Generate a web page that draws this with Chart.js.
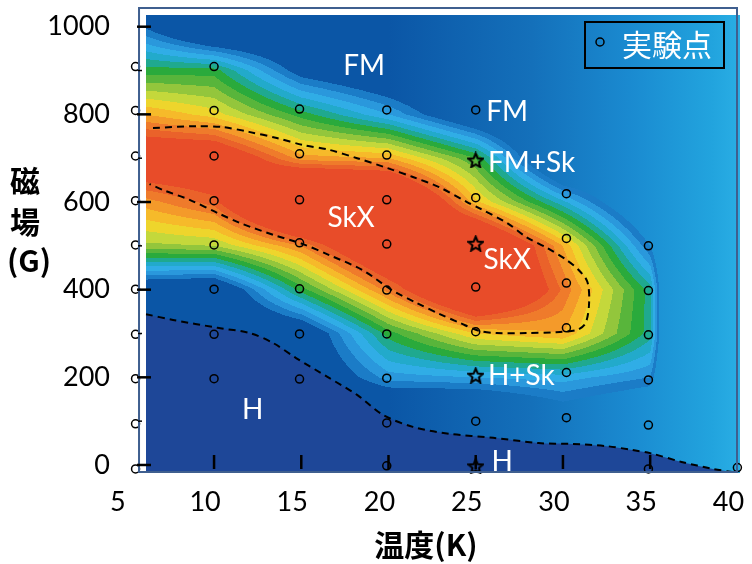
<!DOCTYPE html>
<html>
<head>
<meta charset="utf-8">
<script src="https://cdn.jsdelivr.net/npm/chart.js@4.4.1/dist/chart.umd.min.js"></script>
<style>
  html, body { margin: 0; padding: 0; background: #fff; }
  #wrap { width: 752px; height: 564px; position: relative; }
</style>
</head>
<body>
<div id="wrap"><canvas id="phaseChart"></canvas></div>
<script>
// contour field: grid columns (K), rows (G), value = colour level (>=15 is red)
const gridT = [6, 10, 15, 20, 25, 30, 35, 36, 40]
const gridG = [0, 100, 200, 300, 400, 500, 600, 700, 800, 900, 1000]
const levelT6 = [-3, -3, -3, -2, -1.3, 8.7, 12.5, 18, 12, 6.5, 0.9]
const levelT10 = [-3, -3, -3, -3, -1.9, 9, 14.5, 18, 10.5, 6.5, -3.7]
const levelT15 = [-3, -3, -2, -1.5, 6.5, 13, 24, 12.5, 6.5, 0, -3]
const levelT20 = [-4, -4, 2.5, 6.5, 13.5, 20, 22.4, 12, 3, -2.2, -4]
const levelT25 = [-5, -4.5, 3, 11, 21.4, 21.1, 11.3, 7, -2, -4, -4]
const levelT30 = [-3, -1, 3.5, 12, 13.8, 12, 4.3, -4.4, -5, -5, -5]
const levelT35 = [-3, -3, 2, 5.5, 5.5, 1, -3, -3, -3, -3, -3]
const levelT36 = [-3, -3, -3, -3, -3, -3, -3, -3, -3, -3, -3]
const levelT40 = [-3, -3, -3, -3, -3, -3, -3, -3, -3, -3, -3]
const levelColumns = [levelT6, levelT10, levelT15, levelT20, levelT25, levelT30, levelT35, levelT36, levelT40]
const fieldStartT = 6.1

// measured points (実験点), one array of fields per temperature column
const pointCols = [10, 14.9, 19.9, 25, 30.2, 34.9, 40, 5.5]
const ptsT5 = [-9, 94, 197, 298, 401, 502, 603, 705, 809, 909]
const ptsT10 = [197, 298, 401, 502, 603, 705, 809, 909]
const ptsT15 = [196, 299, 402, 507, 605, 710, 812]
const ptsT20 = [-2, 96, 198, 299, 399, 504, 605, 707, 810]
const ptsT25 = [100, 304, 406, 610, 810]
const ptsT30 = [108, 211, 313, 415, 517, 619]
const ptsT35 = [-9, 91, 194, 297, 398, 500]
const ptsT40 = [-6]
const pointFields = [ptsT10, ptsT15, ptsT20, ptsT25, ptsT30, ptsT35, ptsT40, ptsT5]

// highlighted points (stars) at 25 K
const starT = [25, 25, 25, 25]
const starG = [-2, 205, 506, 696]

// dashed phase boundaries
const skxT = [6.5, 9.0, 10.5, 12.0, 13.6, 15.1, 16.6, 18.2, 19.9, 21.4, 22.9, 24.5, 25.2, 26.8, 27.9, 29.1, 30.2, 30.9, 31.4, 31.5, 31.3, 30.8, 29.6, 27.9, 26.2, 25.2, 24.1, 22.9, 21.6, 20.2, 18.5, 16.6, 15.1, 13.4, 11.5, 10.2, 8.6, 7.1, 6.3]
const skxG = [769, 773, 771, 760, 746, 730, 719, 700, 678, 657, 634, 600, 586, 552, 520, 495, 468, 445, 418, 370, 324, 308, 303, 301, 301, 306, 324, 345, 370, 399, 445, 479, 504, 525, 552, 575, 605, 627, 641]
const hT = [6.1, 7.65, 10.2, 12.05, 13.4, 14.7, 16.5, 18.2, 19.7, 21.4, 23.5, 26.0, 28.6, 30.5, 32.5, 34.0, 35.0, 36.8, 38.6, 39.7]
const hG = [344, 331, 313, 301, 278, 244, 201, 160, 114, 87, 71, 62, 50, 48, 43, 34, 27, 7, -9, -16]

const xTicks = [5, 10, 15, 20, 25, 30, 35, 40]
const yTicks = [0, 200, 400, 600, 800, 1000]

const levelColors = ['#1b7cc7', '#2a98dc', '#30ade6', '#22aacb', '#1fa98f', '#2aaa3c', '#58b53b', '#93c63c',
  '#c4d83b', '#eed52c', '#f6ba2a', '#f49a2a', '#ef7b2b', '#ea622a', '#e84c29']
const bgStops = [[0, '#0b56a6'], [0.41, '#1470ba'], [0.69, '#1a8ad0'], [0.93, '#22a4de'], [1, '#29ade4']]

const phaseLabels = [
  ['FM', 17.4, 910], ['FM', 25.6, 805], ['FM+Sk', 25.7, 689], ['SkX', 16.5, 563],
  ['SkX', 25.45, 468], ['H+Sk', 25.7, 204], ['H', 11.6, 125], ['H', 25.9, 7]
]

function seg(arr, v) {
  if (v <= arr[0]) return [0, 0]
  for (let i = 0; i < arr.length - 1; i++) {
    if (v <= arr[i + 1]) return [i, (v - arr[i]) / (arr[i + 1] - arr[i])]
  }
  return [arr.length - 2, 1]
}

function levelAt(t, g) {
  const [i, ft] = seg(gridT, t)
  const [j, fg] = seg(gridG, g)
  const c0 = levelColumns[i], c1 = levelColumns[i + 1]
  const a = c0[j] + (c0[j + 1] - c0[j]) * fg
  const b = c1[j] + (c1[j + 1] - c1[j]) * fg
  return a + (b - a) * ft
}

function starImage(size) {
  const c = document.createElement('canvas')
  c.width = c.height = size
  const g = c.getContext('2d')
  g.beginPath()
  for (let k = 0; k < 10; k++) {
    const r = k % 2 ? size * 0.2 : size * 0.45
    const ang = -Math.PI / 2 + k * Math.PI / 5
    const px = size / 2 + r * Math.cos(ang), py = size / 2 + 1 + r * Math.sin(ang)
    k ? g.lineTo(px, py) : g.moveTo(px, py)
  }
  g.closePath()
  g.lineWidth = 2
  g.strokeStyle = '#000'
  g.stroke()
  return c
}

const fieldPlugin = {
  id: 'phaseField',
  beforeDatasetsDraw(chart) {
    const { ctx, chartArea: a, scales: { x, y } } = chart
    const left = Math.round(x.getPixelForValue(fieldStartT))
    const w = Math.round(a.right - left), h = Math.round(a.bottom - a.top)
    const grad = ctx.createLinearGradient(x.getPixelForValue(20), 0, x.getPixelForValue(40), 0)
    bgStops.forEach(([p, c]) => grad.addColorStop(p, c))
    ctx.save()
    ctx.fillStyle = grad
    ctx.fillRect(left, a.top, w, h)
    const off = document.createElement('canvas')
    off.width = w
    off.height = h
    const octx = off.getContext('2d')
    const img = octx.createImageData(w, h)
    const rgb = levelColors.map(c => [1, 3, 5].map(k => parseInt(c.slice(k, k + 2), 16)))
    for (let j = 0; j < h; j++) {
      const g = y.getValueForPixel(a.top + j + 0.5)
      for (let i = 0; i < w; i++) {
        const lv = Math.floor(levelAt(x.getValueForPixel(left + i + 0.5), g))
        if (lv < 1) continue
        const c = rgb[Math.min(lv, rgb.length) - 1]
        const k = (j * w + i) * 4
        img.data[k] = c[0]; img.data[k + 1] = c[1]; img.data[k + 2] = c[2]; img.data[k + 3] = 255
      }
    }
    octx.putImageData(img, 0, 0)
    ctx.drawImage(off, left, a.top, w, h)
    ctx.restore()
  },
  afterDatasetsDraw(chart) {
    const { ctx, chartArea: a, scales: { x, y } } = chart
    const left = x.getPixelForValue(fieldStartT)
    ctx.save()
    // frame
    ctx.strokeStyle = '#3f5f8f'
    ctx.lineWidth = 2
    ctx.strokeRect(left - 7, a.top - 7, a.right - left + 4, a.bottom - a.top + 6)
    // inner tick marks
    ctx.strokeStyle = '#000'
    ctx.lineWidth = 2.5
    yTicks.forEach(v => {
      const py = y.getPixelForValue(v)
      ctx.beginPath(); ctx.moveTo(left - 9, py); ctx.lineTo(left + 5, py); ctx.stroke()
    })
    ctx.lineWidth = 1.5
    yTicks.slice(1).forEach(v => {
      const py = y.getPixelForValue(v - 100)
      ctx.beginPath(); ctx.moveTo(left - 8, py); ctx.lineTo(left - 4, py); ctx.stroke()
    })
    ctx.lineWidth = 2.5
    xTicks.slice(1, -1).forEach(v => {
      const px = x.getPixelForValue(v)
      ctx.beginPath(); ctx.moveTo(px, a.bottom - 18); ctx.lineTo(px, a.bottom - 4); ctx.stroke()
    })
    // phase labels
    ctx.fillStyle = '#fff'
    ctx.font = '28px Lato, "Open Sans", sans-serif'
    ctx.textAlign = 'left'
    ctx.textBaseline = 'middle'
    phaseLabels.forEach(([txt, t, g]) => ctx.fillText(txt, x.getPixelForValue(t), y.getPixelForValue(g)))
    // legend box
    ctx.strokeStyle = '#000'
    ctx.lineWidth = 2
    ctx.strokeRect(585, 22, 139, 46)
    ctx.lineWidth = 1.5
    ctx.beginPath(); ctx.arc(600, 42, 4, 0, Math.PI * 2); ctx.stroke()
    ctx.font = '30px "Noto Sans CJK JP", sans-serif'
    ctx.fillText(chart.data.datasets[2].label, 622, 45)
    // axis titles
    ctx.fillStyle = '#000'
    ctx.font = 'bold 30px "Noto Sans CJK JP", sans-serif'
    ctx.textAlign = 'center'
    ctx.fillText('温度(K)', 426, 545)
    ctx.fillText('磁', 25, 181)
    ctx.fillText('場', 25, 222)
    ctx.fillText('(G)', 29, 261)
    ctx.restore()
  }
}

const pointData = []
pointCols.forEach((t, i) => pointFields[i].forEach(g => pointData.push({ x: t, y: g })))

Chart.defaults.font.family = 'Lato, "Open Sans", sans-serif'

new Chart(document.getElementById('phaseChart'), {
  type: 'scatter',
  data: {
    datasets: [
      {
        label: 'H境界',
        data: hT.map((t, i) => ({ x: t, y: hG[i] })),
        showLine: true,
        tension: 0.3,
        borderColor: '#000',
        borderWidth: 2,
        borderDash: [7, 5],
        pointRadius: 0,
        fill: 'start',
        backgroundColor: '#1e4798',
        order: 3
      },
      {
        label: 'SkX境界',
        data: skxT.map((t, i) => ({ x: t, y: skxG[i] })),
        showLine: true,
        tension: 0.3,
        borderColor: '#000',
        borderWidth: 2,
        borderDash: [7, 5],
        pointRadius: 0,
        fill: false,
        order: 2
      },
      {
        label: '実験点',
        data: pointData,
        pointStyle: 'circle',
        pointRadius: 4,
        borderColor: '#000',
        borderWidth: 1.5,
        backgroundColor: 'rgba(0,0,0,0)',
        clip: false,
        order: 1
      },
      {
        label: 'star',
        data: starT.map((t, i) => ({ x: t, y: starG[i] })),
        pointStyle: starImage(17),
        clip: false,
        order: 0
      }
    ]
  },
  options: {
    responsive: true,
    maintainAspectRatio: false,
    animation: false,
    events: [],
    layout: { padding: { left: 0, right: 12, top: 15, bottom: 0 } },
    plugins: {
      legend: { display: false },
      tooltip: { enabled: false }
    },
    scales: {
      x: {
        type: 'linear',
        min: 5.64,
        max: 40.15,
        grid: { display: false },
        border: { display: false },
        afterBuildTicks: (scale) => { scale.ticks = xTicks.map(v => ({ value: v })) },
        afterFit: (scale) => { scale.height = 91; scale.paddingLeft = 0; scale.paddingRight = 0 },
        ticks: { autoSkip: false, maxRotation: 0, padding: 5, labelOffset: -9, color: '#000', font: { size: 27 }, callback: (v) => String(v) }
      },
      y: {
        type: 'linear',
        min: -18.3,
        max: 1026.7,
        grid: { display: false },
        border: { display: false },
        afterBuildTicks: (scale) => { scale.ticks = yTicks.map(v => ({ value: v })) },
        afterFit: (scale) => { scale.width = 138; scale.paddingTop = 0; scale.paddingBottom = 0 },
        ticks: { autoSkip: false, padding: 20, color: '#000', font: { size: 27 }, callback: (v) => String(v) }
      }
    }
  },
  plugins: [fieldPlugin]
})
</script>
</body>
</html>
